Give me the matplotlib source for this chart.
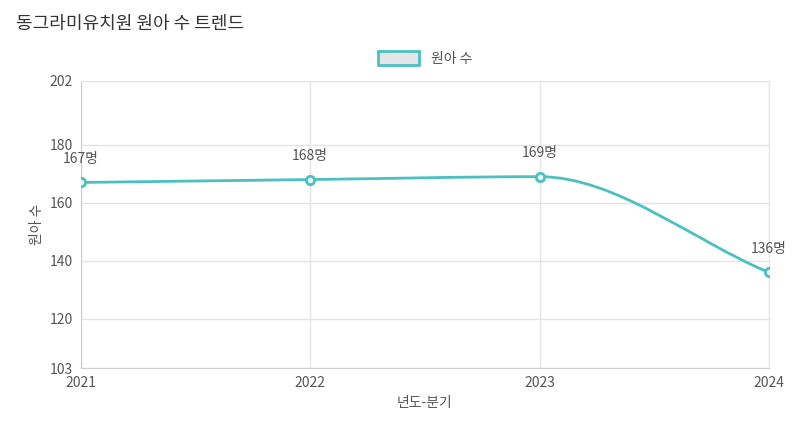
import matplotlib
matplotlib.use("Agg")
import matplotlib.pyplot as plt
import numpy as np
from matplotlib.path import Path
from matplotlib.patches import PathPatch, Patch

plt.rcParams["font.family"] = ["Noto Sans CJK JP", "Noto Sans CJK KR", "Noto Sans CJK SC", "DejaVu Sans"]

years = ["2021", "2022", "2023", "2024"]
counts = [167, 168, 169, 136]
y_ticks = [103, 120, 140, 160, 180, 202]

COLOR = "#4BC0C0"

fig = plt.figure(figsize=(8.05, 4.33), dpi=100)
ax = fig.add_axes([0.1006, 0.150, 0.8544, 0.663])

x = np.arange(len(years), dtype=float)
y = np.array(counts, dtype=float)

# monotone cubic (Fritsch-Carlson) tangents, drawn as bezier segments
d = np.diff(y) / np.diff(x)
m = np.zeros_like(y)
m[0], m[-1] = d[0], d[-1]
for i in range(1, len(y) - 1):
    m[i] = 0 if d[i - 1] * d[i] <= 0 else 2 / (1 / d[i - 1] + 1 / d[i])
verts = [(x[0], y[0])]
codes = [Path.MOVETO]
for i in range(len(x) - 1):
    h = (x[i + 1] - x[i]) / 3
    verts += [(x[i] + h, y[i] + m[i] * h), (x[i + 1] - h, y[i + 1] - m[i + 1] * h), (x[i + 1], y[i + 1])]
    codes += [Path.CURVE4] * 3
ax.add_patch(PathPatch(Path(verts, codes), fill=False, edgecolor=COLOR, lw=2, zorder=3))
ax.plot(x, y, "o", ms=6, mfc="#e3f5f5", mec=COLOR, mew=2, zorder=4)

for xi, yi in zip(x, counts):
    ax.annotate(f"{yi}명", (xi, yi), textcoords="offset points", xytext=(0, 14),
                ha="center", fontsize=10, color="#555555")

ax.set_xlim(0, len(years) - 1)
ax.set_ylim(103, 202)
ax.set_xticks(x, years)
ax.set_yticks(y_ticks)
ax.tick_params(colors="#555555", labelsize=10, length=0, pad=6)
ax.grid(color="#e5e5e5", lw=1)
for s in ax.spines.values():
    s.set_color("#e5e5e5")
ax.spines["bottom"].set_color("#cccccc")
ax.spines["left"].set_color("#cccccc")
ax.set_xlabel("년도-분기", color="#555555", fontsize=10)
ax.set_ylabel("원아 수", color="#555555", fontsize=10)

leg = ax.legend(handles=[Patch(facecolor="#e5e5e5", edgecolor=COLOR, lw=2, label="원아 수")],
                loc="lower center", bbox_to_anchor=(0.5, 1.01), frameon=False,
                fontsize=10, handlelength=3, handleheight=1.1)
for t_ in leg.get_texts():
    t_.set_color("#555555")

fig.text(0.02, 0.965, "동그라미유치원 원아 수 트렌드", fontsize=13, color="#333333", va="top")

fig.savefig("out.png", dpi=100)
